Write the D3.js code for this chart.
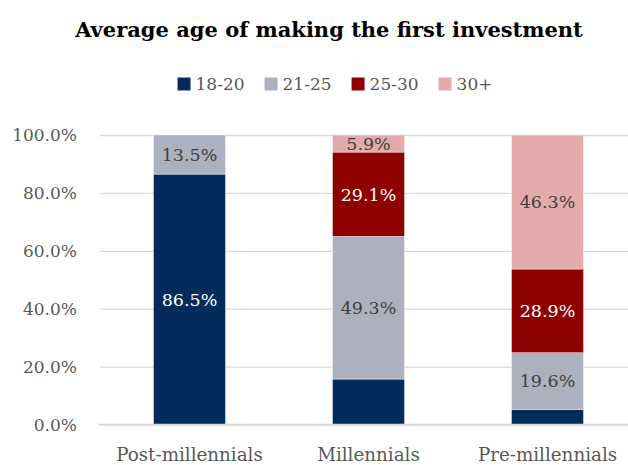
<!DOCTYPE html>
<html>
<head>
<meta charset="utf-8">
<script src="https://cdn.jsdelivr.net/npm/d3@7"></script>
<style>
  body { margin: 0; background: #fff; }
  text { font-family: "DejaVu Serif", serif; }
</style>
</head>
<body>
<svg id="chart" width="628" height="465"></svg>
<script>
// Share of respondents (%) by age of first investment, per generation
const categories = ["Post-millennials", "Millennials", "Pre-millennials"];
const groups = ["18-20", "21-25", "25-30", "30+"];
const age18to20 = [86.5, 15.7, 5.2];
const age21to25 = [13.5, 49.3, 19.6];
const age25to30 = [0, 29.1, 28.9];
const age30plus = [0, 5.9, 46.3];
const yTicks = [0, 20, 40, 60, 80, 100];
// segments that carry a value label, per group then per category
const labelled = [
  [true, false, false],
  [true, true, true],
  [false, true, true],
  [false, true, true]
];

const series = [age18to20, age21to25, age25to30, age30plus];
const colors = ["#032b5b", "#adb0bf", "#8f0000", "#e3abab"];
const labelColors = ["#ffffff", "#404040", "#ffffff", "#404040"];

const svg = d3.select("#chart");

const x = d3.scaleBand().domain(categories).range([100, 637])
  .paddingInner(0.598).paddingOuter(0.299);
const y = d3.scaleLinear().domain([0, 100]).range([424.5, 135]);

// Title
svg.append("text")
  .attr("x", 329).attr("y", 37)
  .attr("text-anchor", "middle")
  .style("font-size", "21px").style("font-weight", "bold").style("fill", "#000")
  .text("Average age of making the first investment");

// Gridlines and y tick labels
const yAxis = svg.append("g")
  .attr("transform", "translate(100,0)")
  .call(d3.axisLeft(y).tickValues(yTicks).tickSize(-537)
    .tickPadding(23).tickFormat(d => d.toFixed(1) + "%"));
yAxis.select(".domain").remove();
yAxis.selectAll("line").attr("stroke", "#d9d9d9").attr("stroke-width", 1.3);
yAxis.selectAll("text").style("font-size", "17px").style("fill", "#595959")
  .attr("dy", "0.35em");

// Stacked bars
const stackData = categories.map((c, i) => {
  const row = { category: c };
  groups.forEach((g, k) => { row[g] = series[k][i]; });
  return row;
});
const stacked = d3.stack().keys(groups)(stackData);

const layers = svg.append("g").selectAll("g")
  .data(stacked).join("g")
  .attr("fill", (d, k) => colors[k]);

layers.selectAll("rect")
  .data(d => d.filter(s => s[1] - s[0] > 0))
  .join("rect")
  .attr("x", d => x(d.data.category))
  .attr("width", x.bandwidth())
  .attr("y", d => y(d[1]))
  .attr("height", d => y(d[0]) - y(d[1]))
  .attr("stroke", "#ffffff").attr("stroke-width", 0.4);

// Value labels
stacked.forEach((layer, k) => {
  layer.forEach((s, i) => {
    if (!labelled[k][i]) return;
    svg.append("text")
      .attr("x", x(s.data.category) + x.bandwidth() / 2)
      .attr("y", y((s[0] + s[1]) / 2))
      .attr("dy", "0.36em")
      .attr("text-anchor", "middle")
      .style("font-size", "17.5px")
      .style("fill", labelColors[k])
      .text(series[k][i].toFixed(1) + "%");
  });
});

// Baseline and category labels
const xAxis = svg.append("g")
  .attr("transform", `translate(0,${y(0)})`)
  .call(d3.axisBottom(x).tickSize(0).tickPadding(0));
xAxis.select(".domain").attr("stroke", "#d9d9d9").attr("stroke-width", 1.3)
  .attr("d", "M98,0H637");
xAxis.selectAll("text").attr("y", 36).attr("dy", 0)
  .style("font-size", "18.3px").style("fill", "#595959");

// Legend
const legend = svg.append("g");
let lx = 0;
groups.forEach((g, k) => {
  const item = legend.append("g").attr("transform", `translate(${lx},0)`);
  item.append("rect").attr("x", 0).attr("y", -6.5).attr("width", 13).attr("height", 13)
    .attr("fill", colors[k]);
  const t = item.append("text").attr("x", 18).attr("y", 0).attr("dy", "0.36em")
    .style("font-size", "17px").style("fill", "#595959").text(g);
  lx += 18 + t.node().getComputedTextLength() + 20;
});
const legendWidth = lx - 20;
legend.attr("transform", `translate(${335 - legendWidth / 2},84)`);
</script>
</body>
</html>
